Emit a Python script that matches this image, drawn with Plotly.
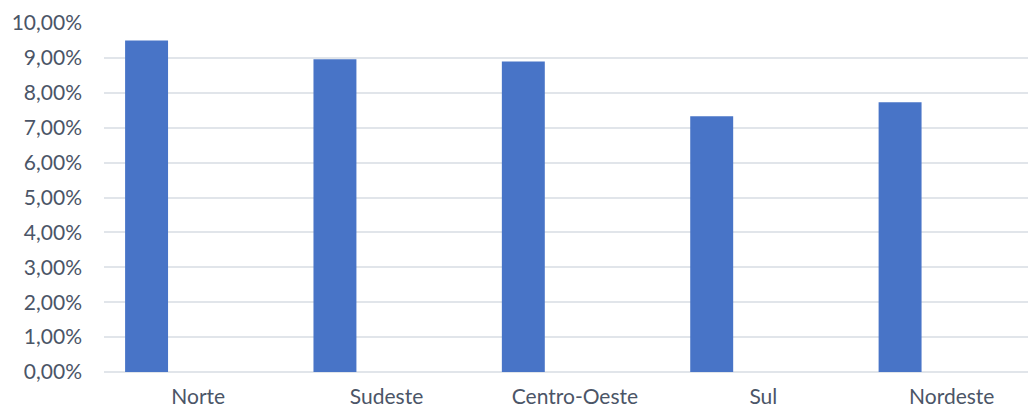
import plotly.graph_objects as go

regioes = ["Norte", "Sudeste", "Centro-Oeste", "Sul", "Nordeste"]
valores = [0.0950, 0.0896, 0.0890, 0.0733, 0.0773]
y_ticks = [0.00, 0.01, 0.02, 0.03, 0.04, 0.05, 0.06, 0.07, 0.08, 0.09, 0.10]

fig = go.Figure()
fig.add_trace(go.Bar(
    x=regioes,
    y=valores,
    width=0.228,
    offset=-0.388,
    marker=dict(color="#4874c7", line=dict(width=0)),
    hoverinfo="x+y",
))

font_color = "#4b5567"
fig.update_layout(
    width=1036,
    height=409,
    margin=dict(l=96, r=0, t=15, b=45),
    paper_bgcolor="white",
    plot_bgcolor="white",
    separators=",.",
    showlegend=False,
    font=dict(family="Lato, Carlito, sans-serif", size=21, color=font_color),
    xaxis=dict(
        type="category",
        range=[-0.5, 4.49],
        showgrid=False,
        showline=False,
        zeroline=False,
        ticks="",
        ticklabelstandoff=10,
        tickfont=dict(size=21, color=font_color),
    ),
    yaxis=dict(
        range=[0, 0.10],
        tickvals=y_ticks,
        tickformat=".2%",
        showgrid=True,
        gridcolor="#e1e5ea",
        gridwidth=2,
        zeroline=True,
        zerolinecolor="#e1e5ea",
        zerolinewidth=2,
        showline=False,
        ticks="",
        ticklabelstandoff=21,
        tickfont=dict(size=21, color=font_color),
    ),
)

fig.write_html("out.html")
